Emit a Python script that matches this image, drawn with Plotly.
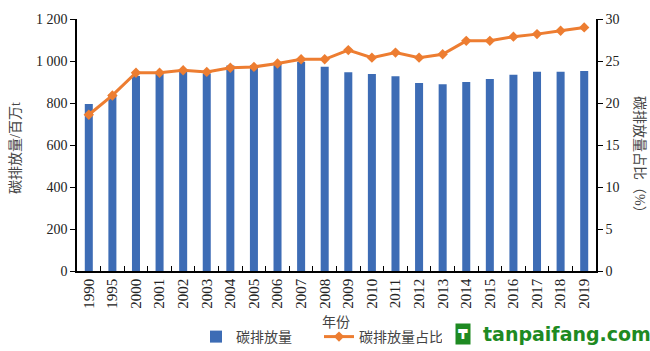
import plotly.graph_objects as go

years = ["1990", "1995"] + [str(y) for y in range(2000, 2020)]
emissions = [795, 840, 929, 938, 949, 940, 978, 980, 989, 997, 973,
             946, 938, 927, 895, 889, 900, 914, 935, 949, 949, 952]
share = [18.6, 20.9, 23.6, 23.6, 23.9, 23.7, 24.2, 24.3, 24.7, 25.2, 25.2,
         26.3, 25.4, 26.0, 25.4, 25.8, 27.4, 27.4, 27.9, 28.2, 28.6, 29.0]

left_ticks = [0, 200, 400, 600, 800, 1000, 1200]
left_labels = ["0", "200", "400", "600", "800", "1 000", "1 200"]
right_ticks = [0, 5, 10, 15, 20, 25, 30]

FONT = "Liberation Serif, Noto Sans CJK SC, serif"
L, R, T, B = 77, 596, 19, 271
W = R - L
H = B - T

def px(x):
    return (x - L) / W

def py(y):
    return (B - y) / H

fig = go.Figure()
fig.add_trace(go.Bar(x=years, y=emissions, name="碳排放量",
                     marker=dict(color="#3d6cb5", line=dict(width=0)),
                     yaxis="y"))
fig.add_trace(go.Scatter(x=years, y=share, name="碳排放量占比", mode="lines+markers",
                         line=dict(color="#ed7d31", width=3),
                         marker=dict(symbol="diamond", size=8, color="#ed7d31"),
                         yaxis="y2"))

fig.update_layout(
    width=650, height=351,
    margin=dict(l=L, r=650 - R, t=T, b=351 - B, autoexpand=False),
    paper_bgcolor="white", plot_bgcolor="white",
    font=dict(family=FONT, color="#222", size=13),
    bargap=0.66,
    showlegend=True,
    legend=dict(orientation="h", x=px(196), y=py(337), xanchor="left", yanchor="middle",
                font=dict(size=14, color="#444"), itemwidth=30,
                entrywidth=78, entrywidthmode="pixels",
                bgcolor="rgba(0,0,0,0)"),
    xaxis=dict(type="category", range=[-0.5, len(years) - 0.5],
               showline=True, linecolor="black", linewidth=1.5,
               ticks="inside", tickson="boundaries", ticklen=5, tickcolor="black",
               tickangle=-90, tickfont=dict(size=15, color="#222"),
               showgrid=False, automargin=False),
    yaxis=dict(range=[0, 1200], tickvals=left_ticks, ticktext=left_labels,
               showline=True, linecolor="black", linewidth=1.5,
               ticks="outside", ticklen=5, tickcolor="black",
               tickfont=dict(size=14, color="#222"), showgrid=False, zeroline=False,
               automargin=False),
    yaxis2=dict(range=[0, 30], tickvals=right_ticks, overlaying="y", side="right",
                showline=True, linecolor="black", linewidth=1.5,
                ticks="outside", ticklen=5, tickcolor="black",
                tickfont=dict(size=14, color="#222"), showgrid=False, zeroline=False,
                automargin=False),
)

# axis titles
fig.add_annotation(xref="paper", yref="paper", x=px(15), y=py(148), text="碳排放量/百万t",
                   textangle=-90, showarrow=False, xanchor="center", yanchor="middle",
                   font=dict(size=14, color="#444"))
fig.add_annotation(xref="paper", yref="paper", x=px(640), y=py(158), text="碳排放量占比（%）",
                   textangle=90, showarrow=False, xanchor="center", yanchor="middle",
                   font=dict(size=14, color="#444"))
fig.add_annotation(xref="paper", yref="paper", x=px(336), y=py(322), text="年份",
                   showarrow=False, xanchor="center", yanchor="middle",
                   font=dict(size=14, color="#444"))

# watermark
fig.add_annotation(xref="paper", yref="paper", x=px(567), y=py(334),
                   text="<b>tanpaifang.com</b>", showarrow=False,
                   font=dict(family="DejaVu Sans", size=19, color="#1e8a22"),
                   xanchor="center", yanchor="middle")
fig.add_annotation(xref="paper", yref="paper", x=px(463), y=py(334),
                   text="<b>₸</b>", showarrow=False,
                   font=dict(family="DejaVu Sans", size=14, color="white"),
                   bgcolor="#1e8a22", borderpad=2,
                   xanchor="center", yanchor="middle")

fig.write_html("out.html")
